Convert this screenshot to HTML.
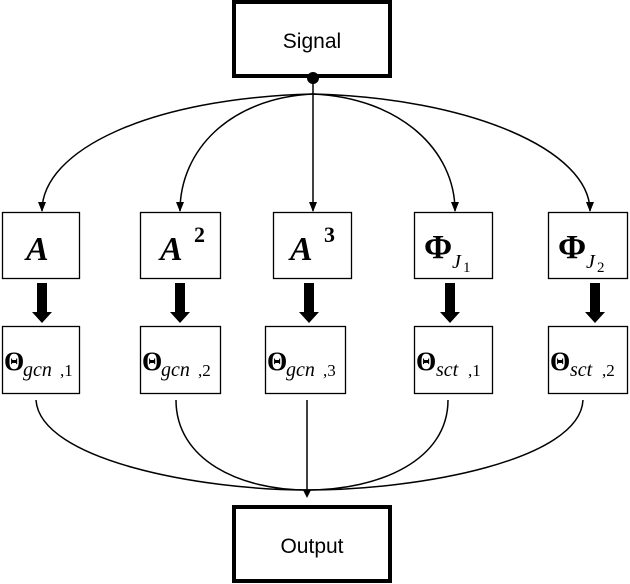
<!DOCTYPE html>
<html><head><meta charset="utf-8"><style>
body{margin:0;background:#fff;}
svg{display:block}
.m{font-family:"Liberation Serif",serif;font-weight:bold;font-style:italic;}
.t{font-family:"Liberation Sans",sans-serif;}
</style></head><body>
<svg width="630" height="584" viewBox="0 0 630 584" xmlns="http://www.w3.org/2000/svg">
<defs>
<marker id="ah" markerWidth="10" markerHeight="10" refX="9" refY="5" orient="auto" markerUnits="userSpaceOnUse">
<path d="M0,1 L10,5 L0,9 Z" fill="#000"/></marker>
</defs>
<rect x="234" y="2" width="156" height="74" fill="#fff" stroke="#000" stroke-width="4"/>
<text x="312" y="48" class="t" font-size="21" text-anchor="middle">Signal</text>
<circle cx="313" cy="78" r="6" fill="#000"/>
<line x1="313" y1="78" x2="313" y2="94" stroke="#000" stroke-width="1.5"/>
<g fill="none" stroke="#000" stroke-width="1.5" marker-end="url(#ah)">
<path d="M313,94 C150,98 42,150 42,211"/>
<path d="M313,94 C230,98 180,150 180,211"/>
<path d="M313,94 L313,211"/>
<path d="M313,94 C400,98 455,150 455,211"/>
<path d="M313,94 C470,98 590,150 590,211"/>
</g>
<g fill="#fff" stroke="#000" stroke-width="1.3">
<rect x="2.5" y="212.5" width="77" height="66"/>
<rect x="140.5" y="212.5" width="80" height="66"/>
<rect x="273.5" y="212.5" width="78" height="66"/>
<rect x="414.5" y="212.5" width="78" height="66"/>
<rect x="548.5" y="212.5" width="79" height="66"/>
<rect x="2.5" y="326.5" width="77" height="67"/>
<rect x="140.5" y="326.5" width="80" height="67"/>
<rect x="265.5" y="326.5" width="80" height="67"/>
<rect x="414.5" y="326.5" width="78" height="67"/>
<rect x="548.5" y="326.5" width="79" height="67"/>
</g>
<g class="m" font-size="34">
<text x="26" y="260">A</text>
<text x="160" y="260">A</text><text x="194" y="242" font-size="22" font-style="normal">2</text>
<text x="290" y="260">A</text><text x="324" y="242" font-size="22" font-style="normal">3</text>
<text x="424" y="258" font-style="normal">Φ</text><text x="452" y="268" font-size="20" font-weight="normal">J</text><text x="463" y="272" font-size="15" font-weight="normal" font-style="normal">1</text>
<text x="558" y="258" font-style="normal">Φ</text><text x="586" y="268" font-size="20" font-weight="normal">J</text><text x="597" y="272" font-size="15" font-weight="normal" font-style="normal">2</text>
</g>
<g font-family="Liberation Serif,serif" font-size="26">
<text x="4" y="370" font-weight="bold">Θ</text><text x="23" y="376" font-size="20" font-style="italic">gcn</text><text x="60" y="376" font-size="17">,1</text>
<text x="142" y="370" font-weight="bold">Θ</text><text x="161" y="376" font-size="20" font-style="italic">gcn</text><text x="198" y="376" font-size="17">,2</text>
<text x="267" y="370" font-weight="bold">Θ</text><text x="286" y="376" font-size="20" font-style="italic">gcn</text><text x="323" y="376" font-size="17">,3</text>
<text x="416" y="370" font-weight="bold">Θ</text><text x="436" y="376" font-size="20" font-style="italic">sct</text><text x="468" y="376" font-size="17">,1</text>
<text x="550" y="370" font-weight="bold">Θ</text><text x="570" y="376" font-size="20" font-style="italic">sct</text><text x="602" y="376" font-size="17">,2</text>
</g>
<g fill="#000">
<path d="M37,283 h10 v29 h5 l-10,11 l-10,-11 h5 Z"/>
<path d="M175,283 h10 v29 h5 l-10,11 l-10,-11 h5 Z"/>
<path d="M304,283 h10 v29 h5 l-10,11 l-10,-11 h5 Z"/>
<path d="M445,283 h10 v29 h5 l-10,11 l-10,-11 h5 Z"/>
<path d="M590,283 h10 v29 h5 l-10,11 l-10,-11 h5 Z"/>
</g>
<g fill="none" stroke="#000" stroke-width="1.5">
<path d="M36,400 C40,460 200,490 307,490"/>
<path d="M176,400 C176,460 240,490 307,490"/>
<path d="M307,400 L307,494"/>
<path d="M448,400 C448,460 380,490 307,490"/>
<path d="M583,400 C580,460 420,490 307,490"/>
</g>
<path d="M303,490 L311,490 L307,498 Z" fill="#000"/>
<rect x="234" y="507" width="156" height="74" fill="#fff" stroke="#000" stroke-width="4"/>
<text x="312" y="553" class="t" font-size="21" text-anchor="middle">Output</text>
</svg>
</body></html>
